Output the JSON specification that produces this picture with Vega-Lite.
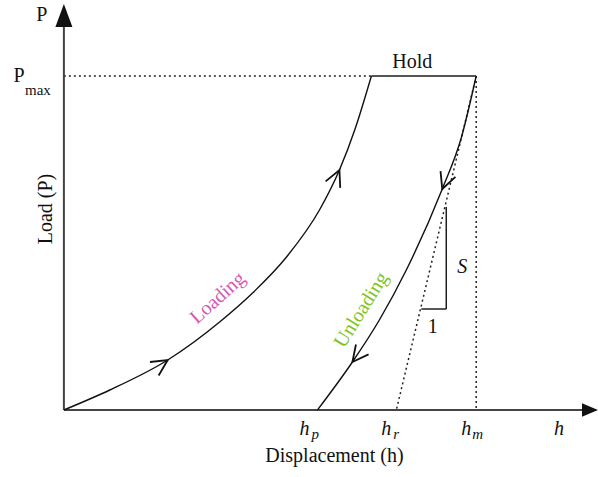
{
  "$schema": "https://vega.github.io/schema/vega-lite/v6.json",
  "width": 598,
  "height": 477,
  "autosize": {"type": "fit", "contains": "padding"},
  "padding": 0,
  "background": "white",
  "config": {"view": {"stroke": null}},
  "datasets": {
    "axes": [
      {"x": 0, "y": 0, "x2": 522, "y2": 0},
      {"x": 0, "y": 0, "x2": 0, "y2": 386}
    ],
    "dotted": [
      {"x": 0, "y": 334, "x2": 308, "y2": 334},
      {"x": 413, "y": 334, "x2": 413, "y2": 0},
      {"x": 413, "y": 334, "x2": 333, "y2": 0}
    ],
    "hold": [{"x": 308, "y": 334, "x2": 413, "y2": 334}],
    "slope": [
      {"x": 383, "y": 203, "x2": 383, "y2": 101},
      {"x": 358, "y": 101, "x2": 383, "y2": 101}
    ],
    "loading": [
      {"h": 0, "P": 0},
      {"h": 46, "P": 20},
      {"h": 104, "P": 50},
      {"h": 156, "P": 88},
      {"h": 189, "P": 117},
      {"h": 223, "P": 153},
      {"h": 256, "P": 200},
      {"h": 276, "P": 240},
      {"h": 292, "P": 282},
      {"h": 308, "P": 334}
    ],
    "unloading": [
      {"h": 254, "P": 0},
      {"h": 289, "P": 48},
      {"h": 316, "P": 90},
      {"h": 343, "P": 140},
      {"h": 379, "P": 221},
      {"h": 398, "P": 272},
      {"h": 413, "P": 334}
    ]
  },
  "encoding": {
    "x": {"type": "quantitative", "scale": {"domain": [-64, 534], "nice": false, "zero": false}, "axis": null},
    "y": {"type": "quantitative", "scale": {"domain": [-67, 410], "nice": false, "zero": false}, "axis": null}
  },
  "layer": [
    {
      "data": {"name": "dotted"},
      "mark": {"type": "rule", "stroke": "#222", "strokeWidth": 1.5, "strokeDash": [2, 3]},
      "encoding": {"x": {"field": "x"}, "y": {"field": "y"}, "x2": {"field": "x2"}, "y2": {"field": "y2"}}
    },
    {
      "data": {"name": "axes"},
      "mark": {"type": "rule", "stroke": "#444", "strokeWidth": 2},
      "encoding": {"x": {"field": "x"}, "y": {"field": "y"}, "x2": {"field": "x2"}, "y2": {"field": "y2"}}
    },
    {
      "data": {"name": "hold"},
      "mark": {"type": "rule", "stroke": "#555", "strokeWidth": 2.2},
      "encoding": {"x": {"field": "x"}, "y": {"field": "y"}, "x2": {"field": "x2"}, "y2": {"field": "y2"}}
    },
    {
      "data": {"name": "slope"},
      "mark": {"type": "rule", "stroke": "#111", "strokeWidth": 1.4},
      "encoding": {"x": {"field": "x"}, "y": {"field": "y"}, "x2": {"field": "x2"}, "y2": {"field": "y2"}}
    },
    {
      "data": {"name": "loading"},
      "mark": {"type": "line", "interpolate": "monotone", "stroke": "#111", "strokeWidth": 1.4},
      "encoding": {"x": {"field": "h"}, "y": {"field": "P"}}
    },
    {
      "data": {"name": "unloading"},
      "mark": {"type": "line", "interpolate": "monotone", "stroke": "#111", "strokeWidth": 1.4},
      "encoding": {"x": {"field": "h"}, "y": {"field": "P"}}
    },
    {
      "data": {"values": [{"x": 0, "y": 394.5}]},
      "mark": {"type": "point", "shape": "M-0.74,1L0,-1L0.74,1Z", "size": 529, "filled": true, "color": "#111", "opacity": 1, "strokeWidth": 0},
      "encoding": {"x": {"field": "x"}, "y": {"field": "y"}}
    },
    {
      "data": {"values": [{"x": 527, "y": 0}]},
      "mark": {"type": "point", "shape": "M-1,-0.85L1,0L-1,0.85Z", "size": 256, "filled": true, "color": "#111", "opacity": 1, "strokeWidth": 0},
      "encoding": {"x": {"field": "x"}, "y": {"field": "y"}}
    },
    {
      "data": {"values": [{"h": 104, "P": 50}]},
      "mark": {"type": "point", "shape": "M-1,-0.5L0,0L-1,0.5", "size": 1024, "filled": false, "stroke": "#111", "strokeWidth": 1.8, "opacity": 1, "angle": -33},
      "encoding": {"x": {"field": "h"}, "y": {"field": "P"}}
    },
    {
      "data": {"values": [{"h": 276, "P": 240}]},
      "mark": {"type": "point", "shape": "M-1,-0.5L0,0L-1,0.5", "size": 1024, "filled": false, "stroke": "#111", "strokeWidth": 1.8, "opacity": 1, "angle": -66},
      "encoding": {"x": {"field": "h"}, "y": {"field": "P"}}
    },
    {
      "data": {"values": [{"h": 379, "P": 221}]},
      "mark": {"type": "point", "shape": "M-1,-0.5L0,0L-1,0.5", "size": 1024, "filled": false, "stroke": "#111", "strokeWidth": 1.8, "opacity": 1, "angle": 111},
      "encoding": {"x": {"field": "h"}, "y": {"field": "P"}}
    },
    {
      "data": {"values": [{"h": 289, "P": 48}]},
      "mark": {"type": "point", "shape": "M-1,-0.5L0,0L-1,0.5", "size": 1024, "filled": false, "stroke": "#111", "strokeWidth": 1.8, "opacity": 1, "angle": 128},
      "encoding": {"x": {"field": "h"}, "y": {"field": "P"}}
    },
    {
      "data": {"values": [
        {"x": -22, "y": 389, "t": "P"},
        {"x": -45, "y": 328, "t": "P"},
        {"x": 349, "y": 342, "t": "Hold"},
        {"x": 271, "y": -52, "t": "Displacement (h)"},
        {"x": 369.5, "y": 77, "t": "1"}
      ]},
      "mark": {"type": "text", "font": "Liberation Serif", "fontSize": 20, "color": "#111", "align": "center", "baseline": "alphabetic"},
      "encoding": {"x": {"field": "x"}, "y": {"field": "y"}, "text": {"field": "t"}}
    },
    {
      "data": {"values": [{"x": -39, "y": 315, "t": "max"}]},
      "mark": {"type": "text", "font": "Liberation Serif", "fontSize": 15, "color": "#111", "align": "left", "baseline": "alphabetic"},
      "encoding": {"x": {"field": "x"}, "y": {"field": "y"}, "text": {"field": "t"}}
    },
    {
      "data": {"values": [{"x": -12, "y": 201, "t": "Load (P)"}]},
      "mark": {"type": "text", "font": "Liberation Serif", "fontSize": 20, "color": "#111", "align": "center", "baseline": "alphabetic", "angle": 270},
      "encoding": {"x": {"field": "x"}, "y": {"field": "y"}, "text": {"field": "t"}}
    },
    {
      "data": {"values": [
        {"x": 236, "y": -25, "t": "h"},
        {"x": 318, "y": -25, "t": "h"},
        {"x": 398, "y": -25, "t": "h"},
        {"x": 491, "y": -25, "t": "h"},
        {"x": 394, "y": 137, "t": "S"}
      ]},
      "mark": {"type": "text", "font": "Liberation Serif", "fontSize": 20, "fontStyle": "italic", "color": "#111", "align": "left", "baseline": "alphabetic"},
      "encoding": {"x": {"field": "x"}, "y": {"field": "y"}, "text": {"field": "t"}}
    },
    {
      "data": {"values": [
        {"x": 248, "y": -29, "t": "p"},
        {"x": 330, "y": -29, "t": "r"},
        {"x": 409, "y": -29, "t": "m"}
      ]},
      "mark": {"type": "text", "font": "Liberation Serif", "fontSize": 15, "fontStyle": "italic", "color": "#111", "align": "left", "baseline": "alphabetic"},
      "encoding": {"x": {"field": "x"}, "y": {"field": "y"}, "text": {"field": "t"}}
    },
    {
      "data": {"values": [{"x": 154, "y": 112, "t": "Loading"}]},
      "mark": {"type": "text", "font": "Liberation Serif", "fontSize": 20, "color": "#d458b6", "align": "center", "baseline": "middle", "angle": -42},
      "encoding": {"x": {"field": "x"}, "y": {"field": "y"}, "text": {"field": "t"}}
    },
    {
      "data": {"values": [{"x": 298, "y": 100, "t": "Unloading"}]},
      "mark": {"type": "text", "font": "Liberation Serif", "fontSize": 20, "color": "#7cc520", "align": "center", "baseline": "middle", "angle": -58},
      "encoding": {"x": {"field": "x"}, "y": {"field": "y"}, "text": {"field": "t"}}
    }
  ]
}
